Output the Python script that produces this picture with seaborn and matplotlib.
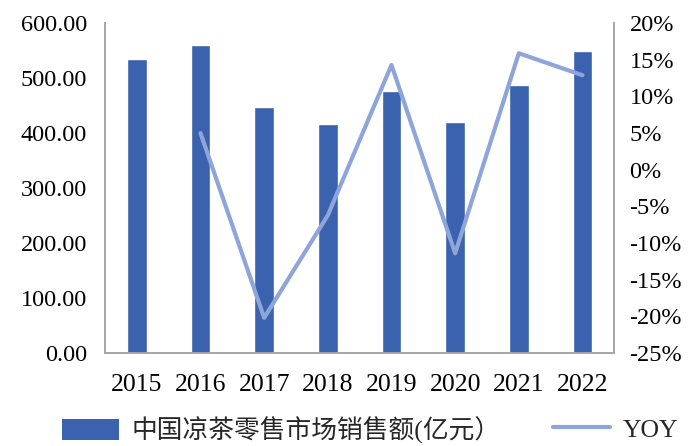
import numpy as np
import pandas as pd
import matplotlib
matplotlib.use("Agg")
import matplotlib.pyplot as plt
import seaborn as sns
from matplotlib.patches import Patch
from matplotlib.lines import Line2D
from matplotlib.ticker import FuncFormatter

# Retail sales of Chinese herbal tea (100 million yuan) and year-on-year growth
years = ["2015", "2016", "2017", "2018", "2019", "2020", "2021", "2022"]
sales = [534.5, 560.0, 447.0, 416.0, 476.0, 420.0, 487.0, 549.0]
yoy_years = ["2016", "2017", "2018", "2019", "2020", "2021", "2022"]
yoy = [5.0, -20.2, -6.2, 14.3, -11.4, 15.9, 12.9]

bar_label = "中国凉茶零售市场销售额(亿元）"
line_label = "YOY"

BAR_COLOR = "#3A62AE"
LINE_COLOR = "#8EA5DA"
SPINE_COLOR = "#A6A6A6"
SERIF = ["Liberation Serif", "Noto Sans CJK SC", "DejaVu Sans"]

sns.set_theme(style="white")
plt.rcParams["font.family"] = SERIF

fig = plt.figure(figsize=(6.91, 4.46), dpi=100)
ax = fig.add_axes([0.152, 0.2085, 0.737, 0.7395])

df = pd.DataFrame({"year": years, "sales": sales})
sns.barplot(data=df, x="year", y="sales", color=BAR_COLOR, saturation=1,
            width=0.31, ax=ax)
ax.set_xlim(-0.5, len(years) - 0.5)
ax.set_ylim(0, 600)
ax.set_yticks(np.arange(0, 601, 100))
ax.yaxis.set_major_formatter(FuncFormatter(lambda v, p: f"{v:.2f}"))
ax.set_xlabel("")
ax.set_ylabel("")

ax2 = ax.twinx()
pos = [years.index(y) for y in yoy_years]
line_df = pd.DataFrame({"pos": pos, "yoy": yoy})
sns.lineplot(data=line_df, x="pos", y="yoy", color=LINE_COLOR, linewidth=3,
             ax=ax2)
ax2.set_ylim(-25, 20)
ax2.set_yticks(np.arange(-25, 21, 5))
ax2.yaxis.set_major_formatter(FuncFormatter(lambda v, p: f"{v:.0f}%"))
ax2.set_xlabel("")
ax2.set_ylabel("")

for a in (ax, ax2):
    a.tick_params(axis="both", length=0, labelsize=17.5, colors="black")
    a.spines["top"].set_visible(False)
    for s in ("left", "right", "bottom"):
        a.spines[s].set_color(SPINE_COLOR)
        a.spines[s].set_linewidth(1.2)
ax.tick_params(axis="x", pad=15, labelsize=18.5)
ax.tick_params(axis="y", pad=13)
ax2.tick_params(axis="y", pad=11)

legend_kw = dict(loc="center left", frameon=False, borderaxespad=0,
                 handlelength=2.2, handleheight=0.85, handletextpad=0.5,
                 prop={"family": SERIF, "size": 18.5})
leg1 = fig.legend([Patch(facecolor=BAR_COLOR, edgecolor="none")], [bar_label],
                  bbox_to_anchor=(0.075, 0.036), **legend_kw)
leg2 = fig.legend([Line2D([0], [0], color=LINE_COLOR, linewidth=3)], [line_label],
                  bbox_to_anchor=(0.786, 0.036), **legend_kw)

fig.savefig("out.png", dpi=100)
